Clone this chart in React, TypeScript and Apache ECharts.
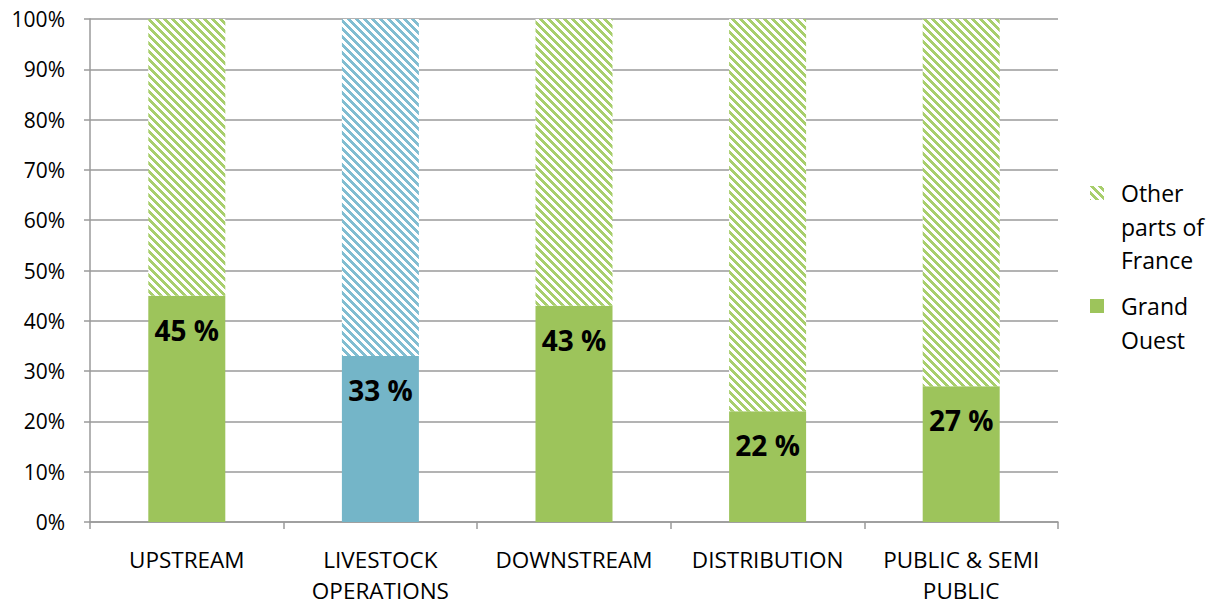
import React, { useEffect, useRef } from "react";
import * as echarts from "echarts";

const categories = ["UPSTREAM", "LIVESTOCK\nOPERATIONS", "DOWNSTREAM", "DISTRIBUTION", "PUBLIC & SEMI\nPUBLIC"];
const grandOuest = [45, 33, 43, 22, 27];
const otherParts = [55, 67, 57, 78, 73];
const highlightIndex = 1;
const yTicks = [0, 10, 20, 30, 40, 50, 60, 70, 80, 90, 100];
const legendOther = ["Other", "parts of", "France"];
const legendGrand = ["Grand", "Ouest"];

const GREEN = "#9DC45B";
const GREEN_STRIPE = "#A8CE6C";
const BLUE = "#74B5C8";
const BLUE_STRIPE = "#80BDD1";
const FONT = "'Open Sans', 'Noto Sans', sans-serif";

function makeHatch(color: string): string {
  const size = 8;
  const c = document.createElement("canvas");
  c.width = size;
  c.height = size;
  const ctx = c.getContext("2d")!;
  ctx.fillStyle = "#ffffff";
  ctx.fillRect(0, 0, size, size);
  ctx.fillStyle = color;
  for (let y = 0; y < size; y++) {
    for (let x = 0; x < size; x++) {
      const d = (((x - y) % size) + size) % size;
      if (d < 4) ctx.fillRect(x, y, 1, 1);
    }
  }
  return c.toDataURL();
}

// Put blank lines above so that the first text line sits at the icon's vertical centre.
function legendLabel(lines: string[]): string {
  const blanks = new Array(lines.length - 1).fill(" ");
  return [...blanks, ...lines].join("\n");
}

export default function App() {
  const ref = useRef<HTMLDivElement>(null);
  useEffect(() => {
    if (!ref.current) return;
    const chart = echarts.init(ref.current, null, { renderer: "svg" });
    const greenHatch = { image: makeHatch(GREEN_STRIPE), repeat: "repeat", imageWidth: 8, imageHeight: 8 };
    const blueHatch = { image: makeHatch(BLUE_STRIPE), repeat: "repeat", imageWidth: 8, imageHeight: 8 };

    const LH = 33.5;
    const legendText = {
      color: "#000",
      fontSize: 23,
      fontFamily: FONT,
      lineHeight: LH,
      padding: [0, 0, 0, 12],
    };
    const firstLineOther = 193;
    const firstLineGrand = 306;

    chart.setOption({
      animation: false,
      backgroundColor: "#fff",
      grid: { left: 90, right: 152, top: 19, bottom: 83, outerBoundsMode: "none", containLabel: false },
      legend: [
        {
          data: ["Other parts of France"],
          orient: "vertical",
          left: 1090,
          top: firstLineOther - LH / 2 - LH * (legendOther.length - 1),
          padding: 0,
          itemWidth: 14,
          itemHeight: 14,
          icon: "rect",
          formatter: () => legendLabel(legendOther),
          textStyle: legendText,
        },
        {
          data: ["Grand Ouest"],
          orient: "vertical",
          left: 1090,
          top: firstLineGrand - LH / 2 - LH * (legendGrand.length - 1),
          padding: 0,
          itemWidth: 14,
          itemHeight: 14,
          icon: "rect",
          formatter: () => legendLabel(legendGrand),
          textStyle: legendText,
        },
      ],
      xAxis: {
        type: "category",
        data: categories,
        axisLine: { lineStyle: { color: "#9a9a9a", width: 1.5 } },
        axisTick: { show: true, length: 7, interval: 0, lineStyle: { color: "#9a9a9a", width: 1.5 } },
        axisLabel: {
          interval: 0,
          color: "#000",
          fontSize: 22.5,
          fontFamily: FONT,
          lineHeight: 31,
          margin: 21.5,
        },
      },
      yAxis: {
        type: "value",
        min: yTicks[0],
        max: yTicks[yTicks.length - 1],
        interval: 10,
        axisLine: { show: true, lineStyle: { color: "#9a9a9a", width: 1.5 } },
        axisTick: { show: true, length: 6, lineStyle: { color: "#9a9a9a", width: 1.5 } },
        splitLine: { lineStyle: { color: "#9a9a9a", width: 1.5 } },
        axisLabel: {
          color: "#000",
          fontSize: 21,
          fontFamily: FONT,
          margin: 25,
          formatter: "{value}%",
        },
      },
      series: [
        {
          name: "Grand Ouest",
          type: "bar",
          stack: "total",
          barWidth: 77,
          itemStyle: { color: GREEN },
          data: grandOuest.map((v, i) =>
            i === highlightIndex ? { value: v, itemStyle: { color: BLUE } } : v
          ),
          label: {
            show: true,
            position: "insideTop",
            distance: 20,
            formatter: "{c} %",
            color: "#000",
            fontSize: 28,
            fontWeight: "bold",
            fontFamily: FONT,
          },
        },
        {
          name: "Other parts of France",
          type: "bar",
          stack: "total",
          barWidth: 77,
          itemStyle: { color: greenHatch },
          data: otherParts.map((v, i) =>
            i === highlightIndex ? { value: v, itemStyle: { color: blueHatch } } : v
          ),
        },
      ],
    });
    return () => chart.dispose();
  }, []);
  return <div ref={ref} style={{ position: "absolute", left: 0, top: 0, width: 1210, height: 605 }} />;
}
